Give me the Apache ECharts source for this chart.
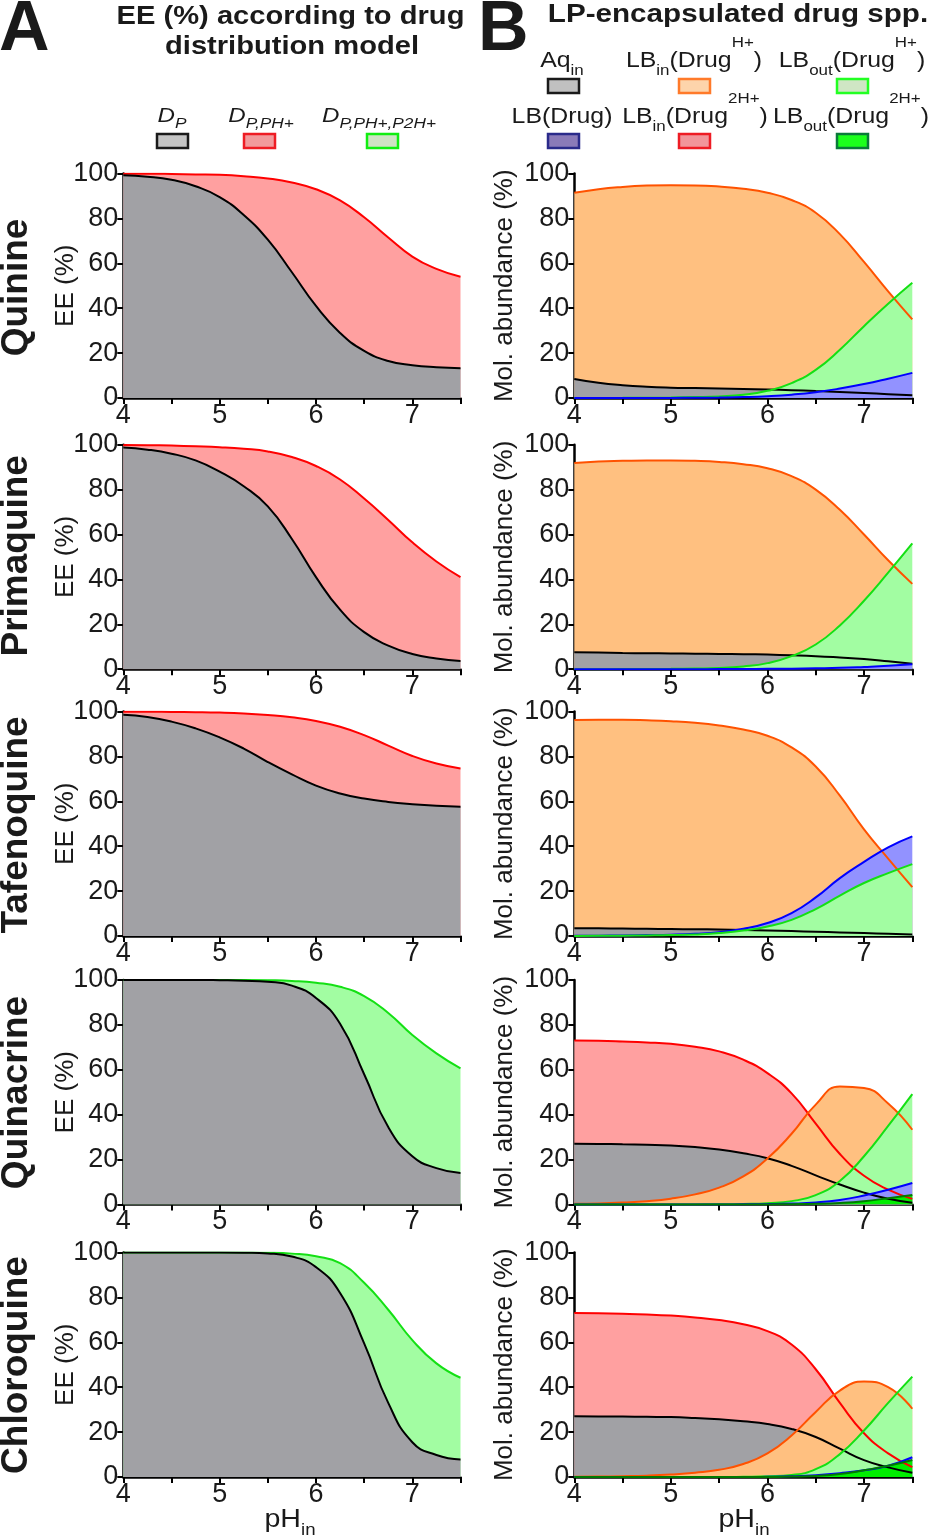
<!DOCTYPE html>
<html><head><meta charset="utf-8">
<script src="https://cdn.jsdelivr.net/npm/echarts@6/dist/echarts.min.js"></script>
<style>html,body{margin:0;padding:0;background:#fff}#c{width:929px;height:1537px}</style>
</head><body><div id="c"></div><script>
// ---------- DATA ----------
const pH = [4, 4.25, 4.5, 4.75, 5, 5.25, 5.5, 5.75, 6, 6.25, 6.5, 6.75, 7, 7.25, 7.5];
const xTicks = [4, 5, 6, 7];
const yTicks = [0, 20, 40, 60, 80, 100];
const drugs = ['Quinine', 'Primaquine', 'Tafenoquine', 'Quinacrine', 'Chloroquine'];

// Panel A: EE (%) by distribution model
const quinineEE_P      = [99.2, 98.6, 97.2, 94.3, 89.5, 81.5, 70.5, 56, 41, 29, 21, 16.5, 14.6, 13.7, 13.3];
const quinineEE_PPH    = [99.9, 99.9, 99.8, 99.6, 99.4, 98.8, 97.8, 96, 93, 88, 80.5, 71.5, 63, 57.5, 54];
const primaquineEE_P   = [98.7, 97.8, 96, 93, 88, 81.5, 72.5, 58, 41, 26.5, 16.5, 10.5, 6.8, 4.8, 3.6];
const primaquineEE_PPH = [99.9, 99.8, 99.6, 99.3, 98.9, 98.2, 97, 94.5, 90.5, 84.5, 76, 66.5, 56.5, 48, 41];
const tafenoquineEE_P  = [98.5, 97.5, 95.5, 92.5, 88.5, 83.5, 77.5, 72, 67, 63.5, 61.2, 59.7, 58.7, 58, 57.6];
const tafenoquineEE_PPH= [99.9, 99.9, 99.8, 99.7, 99.5, 99.1, 98.4, 97.4, 95.8, 93.2, 89.5, 84.8, 80.2, 76.8, 74.6];
const quinacrineEE_P   = [100, 100, 100, 100, 99.9, 99.7, 99.2, 97.5, 92, 80.5, 58, 34.5, 21.5, 16.2, 14];
const quinacrineEE_PPH2= [100, 100, 100, 100, 100, 100, 99.9, 99.6, 98.8, 97, 92.8, 85.3, 75.5, 67.3, 60.6];
const chloroquineEE_P  = [100, 100, 100, 100, 100, 99.9, 99.6, 98.2, 93.5, 82, 59.5, 33, 15.5, 9.8, 7.8];
const chloroquineEE_PPH2=[100, 100, 100, 100, 100, 100, 99.9, 99.5, 98.3, 95.3, 86.5, 74.5, 61, 50.6, 44.2];

// Panel B: molecular abundance (%) of LP-encapsulated species
const quinineAq      = [8.5, 6.8, 5.7, 5, 4.6, 4.4, 4.2, 4, 3.8, 3.5, 3.1, 2.7, 2.2, 1.7, 1.2];
const quinineLBinH   = [91.4, 93, 94, 94.6, 94.8, 94.7, 94.2, 93.2, 91.4, 88.2, 82.5, 73, 60.6, 47.5, 35];
const quinineLBoutH  = [0.02, 0.04, 0.07, 0.12, 0.2, 0.4, 0.7, 1.4, 3.2, 6.6, 12.5, 21.5, 32, 42, 51.3];
const quinineLB      = [0, 0, 0.01, 0.02, 0.05, 0.1, 0.2, 0.4, 0.8, 1.5, 2.6, 4.2, 6.2, 8.6, 11.2];

const primaquineAq     = [7.6, 7.4, 7.2, 7.1, 7, 6.9, 6.8, 6.7, 6.5, 6.2, 5.8, 5.2, 4.5, 3.5, 2.4];
const primaquineLBinH  = [91.8, 92.5, 92.8, 93, 93, 92.8, 92.3, 91.3, 89.5, 86, 80, 71, 60, 48.5, 38];
const primaquineLBoutH = [0, 0.02, 0.04, 0.08, 0.15, 0.28, 0.5, 1.2, 2.7, 5.8, 11, 19.5, 30.5, 43, 56];
const primaquineLB     = [0, 0, 0, 0, 0, 0, 0.05, 0.1, 0.15, 0.25, 0.4, 0.6, 1, 1.5, 2.2];

const tafenoquineAq     = [3.5, 3.4, 3.3, 3.2, 3.1, 3, 2.9, 2.7, 2.5, 2.2, 1.9, 1.6, 1.3, 1, 0.7];
const tafenoquineLBinH  = [96.2, 96.3, 96.3, 96.1, 95.7, 95, 93.8, 92, 89.2, 84, 75.5, 62.5, 47.5, 34.5, 21.8];
const tafenoquineLBoutH = [0.05, 0.08, 0.15, 0.25, 0.4, 0.7, 1.3, 2.4, 4.2, 7.2, 12, 18, 23.6, 28, 32];
const tafenoquineLB     = [0.1, 0.15, 0.25, 0.4, 0.6, 1, 1.7, 3.2, 5.8, 10.2, 17.2, 25.8, 33, 39.5, 44.4];

const quinacrineAq       = [27.1, 27, 26.8, 26.6, 26.3, 25.6, 24.5, 22.8, 20.6, 17.2, 13, 8.9, 5.3, 2.6, 0.8];
const quinacrineLBinH    = [0.3, 0.5, 0.9, 1.5, 2.6, 4.5, 7.5, 12.5, 20.5, 31.5, 44.5, 52.6, 51.9, 45, 33.3];
const quinacrineLBin2H   = [73, 72.9, 72.6, 72.2, 71.6, 70.3, 68.2, 64.5, 58.5, 49.5, 36, 22.5, 12.8, 6.6, 2.5];
const quinacrineLBoutH   = [0, 0, 0, 0, 0, 0.05, 0.1, 0.25, 0.6, 1.5, 4.2, 10.5, 21.5, 35, 49.2];
const quinacrineLB       = [0, 0, 0, 0, 0, 0, 0, 0.1, 0.2, 0.4, 0.9, 2, 4, 6.6, 9.6];
const quinacrineLBout2H  = [0, 0, 0, 0, 0, 0, 0, 0, 0.05, 0.15, 0.3, 0.7, 1.5, 2.8, 4.2];

const chloroquineAq      = [27.1, 27, 26.9, 26.8, 26.7, 26.3, 25.7, 24.8, 23.6, 21.4, 17.8, 12.6, 7.5, 4.3, 1.9];
const chloroquineLBinH   = [0.1, 0.2, 0.35, 0.6, 1.1, 1.9, 3.2, 5.8, 10.5, 18.5, 29, 38.5, 42.5, 40, 30.4];
const chloroquineLBin2H  = [73, 72.9, 72.7, 72.4, 71.9, 71.1, 69.9, 68, 65, 59, 48, 33, 19.5, 10.5, 4.4];
const chloroquineLBoutH  = [0, 0, 0, 0, 0, 0, 0, 0.1, 0.3, 0.9, 3.5, 10.2, 20.7, 33, 44.7];
const chloroquineLB      = [0, 0, 0, 0, 0, 0, 0, 0, 0.1, 0.3, 0.8, 1.7, 3, 5, 8.8];
const chloroquineLBout2H = [0, 0, 0, 0, 0, 0, 0, 0, 0, 0.2, 0.5, 1.3, 3, 5, 7.6];

// ---------- STYLE / LAYOUT ----------
const FONT = '"Liberation Sans", Arial, sans-serif';
const INK = '#1a1a1a';
const COL = {
  gray:   {fill: '#a1a1a5', line: '#000000'},
  red:    {fill: '#ffa0a0', line: '#ff0000'},
  green:  {fill: '#a2fda2', line: '#14e014'},
  orange: {fill: '#ffc080', line: '#ff5200'},
  blue:   {fill: '#9292ff', line: '#0000ff'},
  dkgreen:{fill: '#00ee00', line: '#007a00'}
};
const rowTops = [173.5, 444.7, 711.5, 980, 1252.5];
const plotH = 224.5;
const LEFT = {x: 123.3, w: 337.2};
const RIGHT = {x: 574.3, w: 338};
const SMOOTH = 0.5;

const leftPanels = [
  [['red', quinineEE_PPH], ['gray', quinineEE_P]],
  [['red', primaquineEE_PPH], ['gray', primaquineEE_P]],
  [['red', tafenoquineEE_PPH], ['gray', tafenoquineEE_P]],
  [['green', quinacrineEE_PPH2], ['gray', quinacrineEE_P]],
  [['green', chloroquineEE_PPH2], ['gray', chloroquineEE_P]]
];
const rightPanels = [
  [['orange', quinineLBinH], ['gray', quinineAq], ['green', quinineLBoutH], ['blue', quinineLB]],
  [['orange', primaquineLBinH], ['gray', primaquineAq], ['green', primaquineLBoutH], ['blue', primaquineLB]],
  [['orange', tafenoquineLBinH], ['gray', tafenoquineAq], ['blue', tafenoquineLB], ['green', tafenoquineLBoutH]],
  [['red', quinacrineLBin2H], ['gray', quinacrineAq], ['orange', quinacrineLBinH], ['green', quinacrineLBoutH], ['blue', quinacrineLB], ['dkgreen', quinacrineLBout2H]],
  [['red', chloroquineLBin2H], ['gray', chloroquineAq], ['orange', chloroquineLBinH], ['green', chloroquineLBoutH], ['blue', chloroquineLB], ['dkgreen', chloroquineLBout2H]]
];

const grids = [], xAxes = [], yAxes = [], series = [];
function addPanel(pos, top, layers) {
  const gi = grids.length;
  grids.push({left: pos.x, top: top, width: pos.w, height: plotH});
  xAxes.push({
    gridIndex: gi, type: 'value', min: 4, max: 7.5, interval: 0.5,
    axisLine: {lineStyle: {color: '#000', width: 2.5}},
    axisTick: {length: 6, lineStyle: {color: '#000', width: 2}},
    axisLabel: {fontSize: 27, fontFamily: FONT, color: INK, margin: 4,
      formatter: v => xTicks.indexOf(v) >= 0 ? String(v) : ''},
    splitLine: {show: false}
  });
  yAxes.push({
    gridIndex: gi, type: 'value', min: 0, max: 100, interval: 20,
    axisLine: {show: true, lineStyle: {color: '#000', width: 2.5}},
    axisTick: {show: true, length: 6, lineStyle: {color: '#000', width: 2}},
    axisLabel: {fontSize: 27, fontFamily: FONT, color: INK, margin: 5,
      formatter: v => yTicks.indexOf(v) >= 0 ? String(v) : ''},
    splitLine: {show: false}
  });
  layers.forEach(([c, arr]) => series.push({
    type: 'line', xAxisIndex: gi, yAxisIndex: gi, smooth: SMOOTH, symbol: 'none', silent: true,
    data: pH.map((x, i) => [x, arr[i]]),
    lineStyle: {width: 0, opacity: 0},
    areaStyle: {color: COL[c].fill, opacity: 1}, z: 2
  }));
  layers.forEach(([c, arr]) => series.push({
    type: 'line', xAxisIndex: gi, yAxisIndex: gi, smooth: SMOOTH, symbol: 'none', silent: true,
    data: pH.map((x, i) => [x, arr[i]]),
    lineStyle: {width: 2, color: COL[c].line}, z: 3
  }));
}
for (let r = 0; r < 5; r++) {
  addPanel(LEFT, rowTops[r], leftPanels[r]);
  addPanel(RIGHT, rowTops[r], rightPanels[r]);
}

// ---------- TEXT / LEGEND GRAPHICS ----------
const g = [];
function plain(x, y, text, font, sx, align, rot) {
  g.push({type: 'text', x: x, y: y, scaleX: sx || 1, rotation: rot || 0, silent: true,
    style: {text: text, font: font, fill: INK, align: align || 'center', verticalAlign: 'middle'}});
}
function richTxt(x, y, text, rich, sx) {
  g.push({type: 'text', x: x, y: y, scaleX: sx || 1, silent: true,
    style: {text: text, rich: rich, fill: INK, align: 'center', verticalAlign: 'middle'}});
}
function swatch(x, y, fill, stroke) {
  g.push({type: 'rect', silent: true, shape: {x: x, y: y, width: 31, height: 14},
    style: {fill: fill, stroke: stroke, lineWidth: 2.5}});
}
plain(-1, 31, 'A', 'bold 70px ' + FONT, 1, 'left');
plain(478, 31, 'B', 'bold 70px ' + FONT, 1, 'left');
plain(290.5, 17, 'EE (%) according to drug', 'bold 26px ' + FONT, 1.12);
plain(292, 46.5, 'distribution model', 'bold 26px ' + FONT, 1.12);
plain(738, 15, 'LP-encapsulated drug spp.', 'bold 26px ' + FONT, 1.14);

// legend A
const richA = {
  m: {fontSize: 21, fontStyle: 'italic', fontFamily: FONT, fill: INK},
  s: {fontSize: 15, fontStyle: 'italic', fontFamily: FONT, fill: INK, padding: [14, 0, 0, 0]}
};
richTxt(172, 116.5, '{m|D}{s|P}', richA, 1.15);
richTxt(261, 116.5, '{m|D}{s|P,PH+}', richA, 1.15);
richTxt(379, 116.5, '{m|D}{s|P,PH+,P2H+}', richA, 1.15);
swatch(157, 134, '#c4c4c4', '#1a1a1a');
swatch(244, 134, '#f29a9c', '#ee1c24');
swatch(367, 134, '#cfe3c4', '#11ee11');

// legend B
const richB = {
  m: {fontSize: 22, fontFamily: FONT, fill: INK, lineHeight: 52},
  s: {fontSize: 15, fontFamily: FONT, fill: INK, padding: [20, 0, 0, 0]},
  u: {fontSize: 15, fontFamily: FONT, fill: INK, lineHeight: 6, verticalAlign: 'top'}
};
richTxt(562, 61, '{m|Aq}{s|in}', richB, 1.13);
richTxt(694, 61, '{m|LB}{s|in}{m|(Drug}{u|H+}{m|)}', richB, 1.13);
richTxt(852, 61, '{m|LB}{s|out}{m|(Drug}{u|H+}{m|)}', richB, 1.13);
richTxt(562, 117, '{m|LB(Drug)}', richB, 1.13);
richTxt(695, 117, '{m|LB}{s|in}{m|(Drug}{u|2H+}{m|)}', richB, 1.13);
richTxt(851, 117, '{m|LB}{s|out}{m|(Drug}{u|2H+}{m|)}', richB, 1.13);
swatch(548, 79, '#c0c0c0', '#1a1a1a');
swatch(679, 79, '#fdd4ab', '#ff7a2a');
swatch(837, 79, '#cfe6c4', '#22ff22');
swatch(548, 134, '#8a7ab8', '#2a2a8a');
swatch(679, 134, '#f2959a', '#ee1c24');
swatch(837, 134, '#1cff1c', '#0a7a3a');

// drug names and y-axis titles (rotated)
const nameY = [287.5, 555.8, 825, 1092.5, 1365];
drugs.forEach((d, i) => {
  plain(17, nameY[i], d, 'bold 37px ' + FONT, 1, 'center', Math.PI / 2);
  const mid = rowTops[i] + plotH / 2;
  plain(65.5, mid, 'EE (%)', '26px ' + FONT, 1, 'center', Math.PI / 2);
  plain(505, mid, 'Mol. abundance (%)', '26px ' + FONT, 1, 'center', Math.PI / 2);
});

// bottom axis titles pH_in
const richX = {
  m: {fontSize: 26, fontFamily: FONT, fill: INK},
  s: {fontSize: 17, fontFamily: FONT, fill: INK, padding: [20, 0, 0, 0]}
};
richTxt(290, 1520, '{m|pH}{s|in}', richX, 1.1);
richTxt(744, 1520, '{m|pH}{s|in}', richX, 1.1);

const chart = echarts.init(document.getElementById('c'));
chart.setOption({
  animation: false,
  backgroundColor: '#ffffff',
  grid: grids, xAxis: xAxes, yAxis: yAxes, series: series,
  graphic: g
});
</script></body></html>
